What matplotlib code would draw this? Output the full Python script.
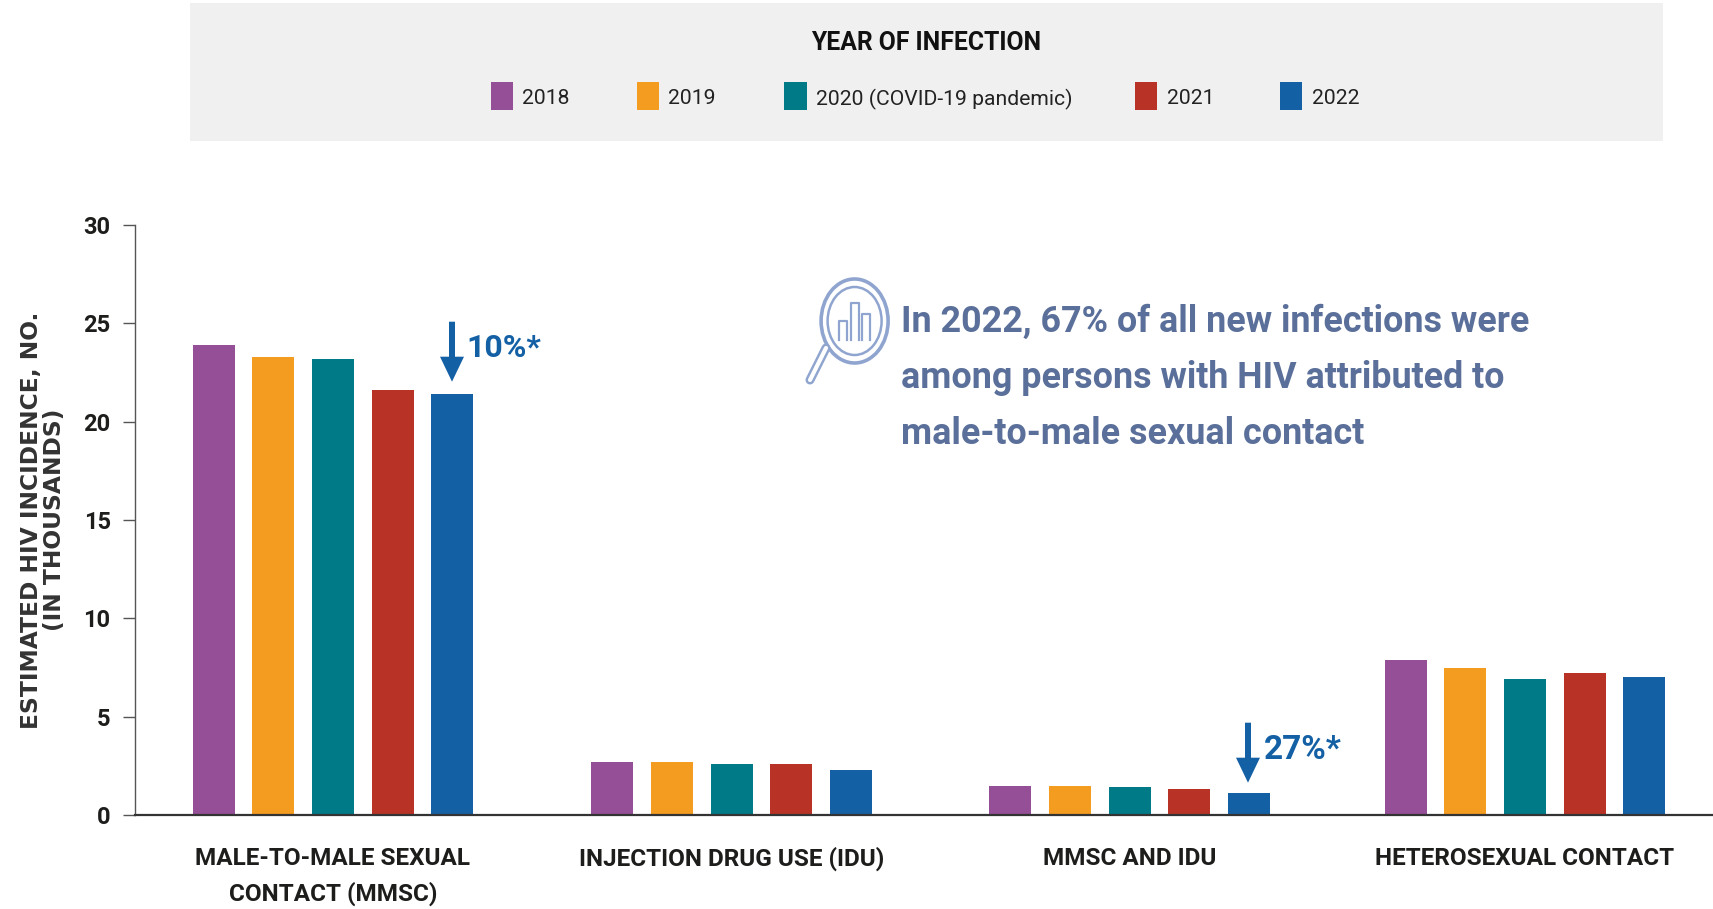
import matplotlib
matplotlib.use('Agg')
import matplotlib.pyplot as plt
from matplotlib.patches import Rectangle, Ellipse, FancyArrow
import numpy as np

years = ['2018', '2019', '2020 (COVID-19 pandemic)', '2021', '2022']
colors = ['#954f96', '#f39c1f', '#007a87', '#b93226', '#1460a5']
categories = ['MALE-TO-MALE SEXUAL\nCONTACT (MMSC)', 'INJECTION DRUG USE (IDU)',
              'MMSC AND IDU', 'HETEROSEXUAL CONTACT']
v2018 = [23.9, 2.7, 1.5, 7.9]
v2019 = [23.3, 2.7, 1.5, 7.5]
v2020 = [23.2, 2.6, 1.4, 6.9]
v2021 = [21.6, 2.6, 1.3, 7.2]
v2022 = [21.4, 2.3, 1.1, 7.0]
series = [v2018, v2019, v2020, v2021, v2022]
yticks = [0, 5, 10, 15, 20, 25, 30]

NARROW = 'Roboto'
W, H = 1713, 909
BLUE = '#1460a5'
SLATE = '#5a6f99'
ICON = '#8fa5cf'

fig = plt.figure(figsize=(W / 100, H / 100), dpi=100)

# overlay in pixel coords for panel, legend, icon, arrows
ov = fig.add_axes([0, 0, 1, 1], zorder=3)
ov.set_xlim(0, W)
ov.set_ylim(H, 0)
ov.axis('off')

ax = fig.add_axes([134.7 / W, (H - 815) / H, (W - 134.7) / W, 590 / H], zorder=2)
ax.patch.set_alpha(0)
x = np.array([0, 1.003, 2.005, 3.0])
pitch = 0.15
for i, vals in enumerate(series):
    ax.bar(x + (i - 2) * pitch, vals, width=0.1057, color=colors[i], zorder=2)
ax.set_xlim(-0.499, 3.473)
ax.set_ylim(0, 30)
ax.spines['top'].set_visible(False)
ax.spines['right'].set_visible(False)
ax.spines['left'].set_color('#555555')
ax.spines['left'].set_linewidth(1)
ax.spines['bottom'].set_color('#333333')
ax.spines['bottom'].set_linewidth(1.6)
ax.set_yticks(yticks)
ax.set_yticklabels(yticks, family='Roboto', fontweight='bold', fontsize=17, color='#1d1d1b')
ax.tick_params(axis='y', length=8.8, width=1, color='#555555', pad=8.5)
ax.set_xticks(x)
ax.set_xticklabels(categories, family=NARROW, fontweight='bold', fontsize=17.5,
                   color='#1d1d1b', linespacing=1.6)
ax.tick_params(axis='x', length=0, pad=23)
ax.set_ylabel('ESTIMATED HIV INCIDENCE, NO.\n(IN THOUSANDS)', family='DejaVu Sans',
              fontweight='bold', fontsize=16.8, color='#333333', linespacing=1.0)
ax.yaxis.set_label_coords(-(134.7 - 66) / (W - 134.7), 0.50)

# legend panel
ov.add_patch(Rectangle((190, 3), 1473, 138, facecolor='#f0f0f0', edgecolor='none'))
ov.text(926.5, 43.5, 'YEAR OF INFECTION', family='Roboto', fontweight='bold', fontsize=17.8,
        color='#111111', ha='center', va='center')
swatch_x = [490.6, 636.9, 784.3, 1135, 1280]
label_x = [522.4, 668, 816, 1167, 1312]
for sx, lx, yr, col in zip(swatch_x, label_x, years, colors):
    ov.add_patch(Rectangle((sx, 82.3), 22.2, 28, facecolor=col, edgecolor='none'))
    ov.text(lx, 99, yr, family=NARROW, fontsize=15.2, color='#222222', ha='left', va='center')

# change arrows
ov.add_patch(FancyArrow(452, 321.7, 0, 60, width=6, head_width=24, head_length=25,
                        length_includes_head=True, color=BLUE, lw=0))
ov.text(466, 348, '10%*', family=NARROW, fontweight='bold', fontsize=23, color=BLUE,
        ha='left', va='center')
ov.add_patch(FancyArrow(1248, 722.7, 0, 60, width=6, head_width=24, head_length=25,
                        length_includes_head=True, color=BLUE, lw=0))
ov.text(1264, 750, '27%*', family=NARROW, fontweight='bold', fontsize=24, color=BLUE,
        ha='left', va='center')

# callout
for yy, line in zip([322, 378, 434], ['In 2022, 67% of all new infections were',
                                      'among persons with HIV attributed to',
                                      'male-to-male sexual contact']):
    ov.text(901, yy, line, family=NARROW, fontweight='bold', fontsize=25.8, color=SLATE,
            ha='left', va='center')

# magnifier icon
ov.add_patch(Ellipse((854.6, 321), 67, 84, fill=False, edgecolor=ICON, lw=2.6))
ov.add_patch(Ellipse((854.6, 321), 54, 68, fill=False, edgecolor=ICON, lw=1.8))
for bx, top in [(843, 321), (854.6, 303), (866, 314)]:
    ov.plot([bx - 4, bx - 4, bx + 4, bx + 4], [340, top, top, 340], color=ICON, lw=1.6)
ov.plot([826, 810], [348, 380], color=ICON, lw=6.5, solid_capstyle='round')
ov.plot([826, 810], [348, 380], color='white', lw=3, solid_capstyle='round')

fig.savefig('out.png', dpi=100)
